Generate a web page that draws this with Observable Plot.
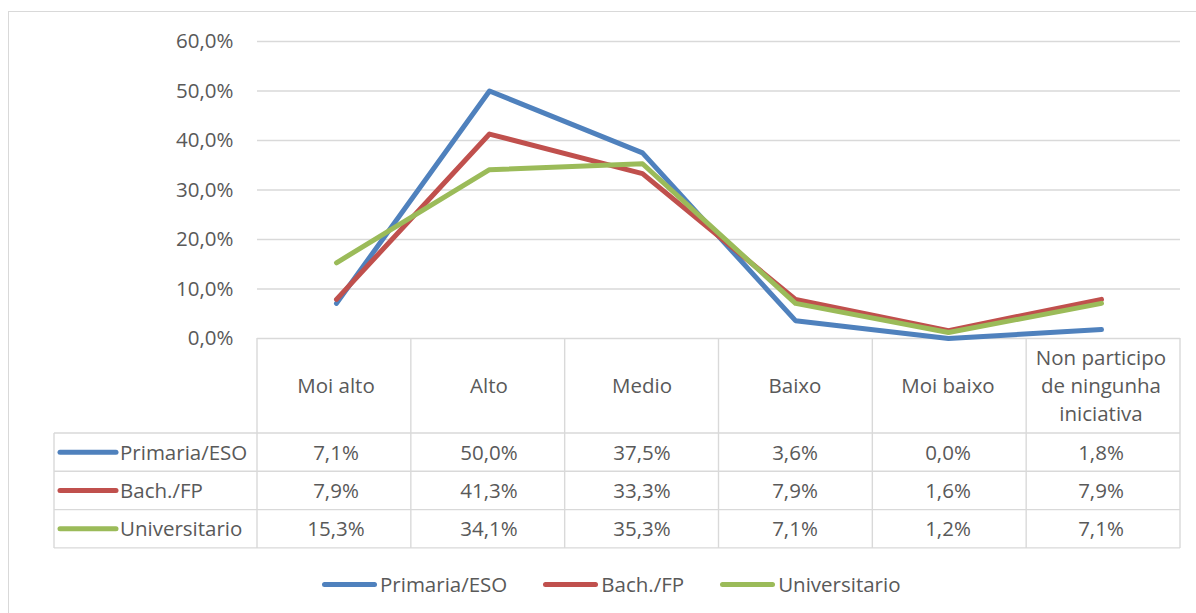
<!DOCTYPE html>
<html><head><meta charset="utf-8">
<script src="https://cdn.jsdelivr.net/npm/d3@7"></script>
<script src="https://cdn.jsdelivr.net/npm/@observablehq/plot@0.6"></script>
<style>
body{margin:0;background:#fff;}
#wrap{position:relative;width:1196px;height:613px;overflow:hidden;font-family:"Open Sans",sans-serif;color:#595959;background:#fff;}
#frame{position:absolute;left:8px;top:11px;width:1400px;height:800px;border-left:1.5px solid #d9d9d9;border-top:1.5px solid #d9d9d9;}
#chart{position:absolute;left:0;top:0;}
#table{position:absolute;left:0;top:0;}
#legend{position:absolute;left:322px;top:568px;height:32px;display:flex;align-items:center;font-size:20.5px;white-space:nowrap;}
#legend .item{display:flex;align-items:center;margin-right:36px;}
#legend .key{width:55px;height:5px;border-radius:3px;margin-right:3px;}
</style></head>
<body><div id="wrap"><div id="frame"></div><svg id="table" width="1196" height="613"></svg><div id="chart"></div><div id="legend"></div></div>
<script>
const categories = ["Moi alto","Alto","Medio","Baixo","Moi baixo","Non participo de ningunha iniciativa"];
const categoryLines = [["Moi alto"],["Alto"],["Medio"],["Baixo"],["Moi baixo"],["Non participo","de ningunha","iniciativa"]];
const seriesNames = ["Primaria/ESO","Bach./FP","Universitario"];
const seriesColors = ["#4f81bd","#c0504d","#9bbb59"];
const primaria = [7.1, 50.0, 37.5, 3.6, 0.0, 1.8];
const bach = [7.9, 41.3, 33.3, 7.9, 1.6, 7.9];
const univ = [15.3, 34.1, 35.3, 7.1, 1.2, 7.1];
const yTicks = [0, 10, 20, 30, 40, 50, 60];

const values = [primaria, bach, univ];
const data = seriesNames.flatMap((s, si) => categories.map((c, ci) => ({series: s, category: c, value: values[si][ci]})));
const fmt = v => v.toFixed(1).replace(".", ",") + "%";

const chart = Plot.plot({
  width: 1196, height: 345,
  marginTop: 41, marginBottom: 7, marginLeft: 257, marginRight: 16,
  style: {background: "transparent", fontFamily: "'Open Sans', sans-serif", fontSize: "20.5px", color: "#595959", overflow: "visible"},
  x: {type: "point", domain: categories, padding: 0.5, axis: null},
  y: {domain: [0, 60], axis: null},
  color: {domain: seriesNames, range: seriesColors},
  marks: [
    Plot.ruleY(yTicks, {stroke: "#d9d9d9", strokeWidth: 1.4}),
    Plot.axisY(yTicks, {tickSize: 0, tickPadding: 24, tickFormat: fmt, label: null, fill: "#595959"}),
    Plot.line(data, {x: "category", y: "value", z: "series", stroke: "series", strokeWidth: 5, strokeLinecap: "round", strokeLinejoin: "round"})
  ]
});
document.getElementById("chart").appendChild(chart);

// Data table below the plot, aligned on the Plot scales
const xs = chart.scale("x"), ys = chart.scale("y");
const [r0, r1] = xs.range;
const colW = (r1 - r0) / categories.length;
const tableTop = ys.apply(0);
const headerH = 95, rowH = 38.3, tableLeft = 54;
const tableBottom = tableTop + headerH + seriesNames.length * rowH;
const svg = d3.select("#table");
const grid = svg.append("g").attr("stroke", "#d9d9d9").attr("stroke-width", 1.4);
for (let i = 0; i <= categories.length; i++) {
  const x = r0 + i * colW;
  grid.append("line").attr("x1", x).attr("x2", x).attr("y1", tableTop).attr("y2", tableBottom);
}
grid.append("line").attr("x1", tableLeft).attr("x2", tableLeft).attr("y1", tableTop + headerH).attr("y2", tableBottom);
for (let k = 0; k <= seriesNames.length; k++) {
  const y = tableTop + headerH + k * rowH;
  grid.append("line").attr("x1", tableLeft).attr("x2", r1).attr("y1", y).attr("y2", y);
}
const txt = svg.append("g").attr("fill", "#595959").attr("font-family", "'Open Sans', sans-serif").attr("font-size", "20.5px");
categories.forEach((c, ci) => {
  const cx = xs.apply(c);
  const lines = categoryLines[ci];
  lines.forEach((l, j) => {
    txt.append("text").attr("x", cx).attr("y", tableTop + headerH / 2 + (j - (lines.length - 1) / 2) * 28)
      .attr("dy", "0.36em").attr("text-anchor", "middle").text(l);
  });
  seriesNames.forEach((s, si) => {
    txt.append("text").attr("x", cx).attr("y", tableTop + headerH + (si + 0.5) * rowH)
      .attr("dy", "0.36em").attr("text-anchor", "middle").text(fmt(values[si][ci]));
  });
});
seriesNames.forEach((s, si) => {
  const cy = tableTop + headerH + (si + 0.5) * rowH;
  svg.append("line").attr("x1", 60).attr("x2", 116).attr("y1", cy).attr("y2", cy)
    .attr("stroke", seriesColors[si]).attr("stroke-width", 5).attr("stroke-linecap", "round");
  txt.append("text").attr("x", 120).attr("y", cy).attr("dy", "0.36em").text(s);
});

// Legend
const legend = d3.select("#legend");
seriesNames.forEach((s, si) => {
  const it = legend.append("div").attr("class", "item");
  it.append("div").attr("class", "key").style("background", seriesColors[si]);
  it.append("span").text(s);
});
</script>
</body></html>
